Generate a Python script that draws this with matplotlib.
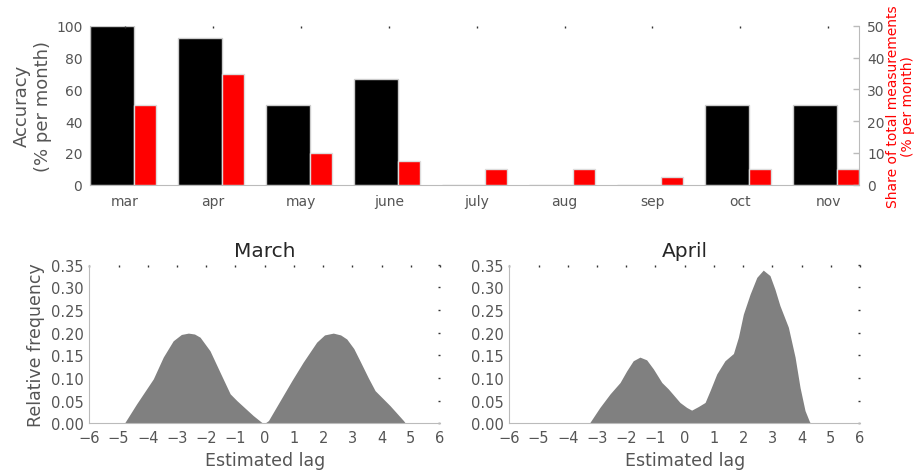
import matplotlib
matplotlib.use("Agg")
import matplotlib.pyplot as plt
import numpy as np

months = ["mar", "apr", "may", "june", "july", "aug", "sep", "oct", "nov"]
accuracy = [100, 92.3, 50, 66.7, 0, 0, 0, 50, 50]
share = [25, 35, 10, 7.5, 5, 5, 2.5, 5, 5]

march_lag = [-6, -4.82, -4.78, -4.38, -3.81, -3.47, -3.13, -2.85, -2.61, -2.40, -2.21, -1.87,
             -1.53, -1.18, -0.95, -0.73, -0.39, -0.10, 0.0, 0.13, 0.53, 0.93, 1.32, 1.78,
             2.05, 2.35, 2.60, 2.81, 3.05, 3.26, 3.55, 3.78, 4.29, 4.75, 4.82, 6]
march_freq = [0, 0, 0.002, 0.043, 0.098, 0.146, 0.182, 0.196, 0.199, 0.197, 0.190, 0.160,
              0.113, 0.065, 0.050, 0.037, 0.017, 0.002, 0.0, 0.006, 0.050, 0.094, 0.135,
              0.179, 0.195, 0.199, 0.195, 0.186, 0.165, 0.138, 0.100, 0.072, 0.039, 0.006,
              0, 0]

april_lag = [-6, -3.28, -3.24, -2.90, -2.55, -2.21, -1.98, -1.76, -1.53, -1.30, -1.07, -0.78,
             -0.56, -0.16, 0.07, 0.24, 0.47, 0.70, 0.87, 1.10, 1.38, 1.67, 1.84, 2.01, 2.24,
             2.47, 2.69, 2.92, 3.09, 3.26, 3.55, 3.78, 3.95, 4.12, 4.27, 4.31, 6]
april_freq = [0, 0, 0.002, 0.035, 0.065, 0.090, 0.116, 0.138, 0.146, 0.140, 0.120, 0.090,
              0.076, 0.046, 0.035, 0.029, 0.037, 0.046, 0.072, 0.109, 0.138, 0.154, 0.190,
              0.241, 0.285, 0.322, 0.338, 0.326, 0.296, 0.260, 0.212, 0.146, 0.079, 0.028,
              0.004, 0, 0]

lag_ticks = list(range(-6, 7))
freq_ticks = [0.00, 0.05, 0.10, 0.15, 0.20, 0.25, 0.30, 0.35]

TXT = "#555555"
SPINE = "#bbbbbb"

plt.rcParams["font.family"] = ["DejaVu Sans"]

fig = plt.figure(figsize=(9.17, 4.77), dpi=100)

# ---- top bar chart ----
ax = fig.add_axes([0.0981, 0.6107, 0.9368 - 0.0981, 0.9434 - 0.6107])
x = np.arange(len(months))
ax.bar(x - 0.4, accuracy, width=0.5, align="edge", color="black",
       edgecolor="#cccccc", linewidth=1)
ax.set_ylim(0, 100)
ax.set_xlim(-0.4, len(months) - 1 + 0.35)
ax.set_yticks([0, 20, 40, 60, 80, 100])
ax.set_xticks(x)
ax.set_xticklabels(months)
ax.set_ylabel("Accuracy\n(% per month)", fontsize=13, color=TXT, labelpad=3)
for s in ["top", "right"]:
    ax.spines[s].set_visible(False)
for s in ["left", "bottom"]:
    ax.spines[s].set_color(SPINE)
ax.tick_params(axis="x", bottom=False, top=True, direction="in", length=1.5,
               width=1, color="#333333", labelsize=10, labelcolor=TXT, pad=7)
ax.tick_params(axis="y", left=False, right=False, direction="in", length=0,
               labelsize=10, labelcolor=TXT, pad=5.5)

ax2 = ax.twinx()
ax2.bar(x + 0.1, share, width=0.25, align="edge", color="red",
        edgecolor="#dddddd", linewidth=1)
ax2.set_ylim(0, 50)
ax2.set_yticks([0, 10, 20, 30, 40, 50])
for s in ["top", "left", "bottom"]:
    ax2.spines[s].set_visible(False)
ax2.spines["right"].set_color(SPINE)
ax2.tick_params(axis="y", right=True, direction="in", length=4, width=1,
                color=SPINE, labelsize=10, labelcolor=TXT, pad=6)
ax2.set_ylabel("Share of total measurements\n(% per month)", fontsize=10,
               color="red", labelpad=1, linespacing=1.05)

# ---- bottom density plots ----
def density(axp, lag, freq, title, ylabel):
    axp.fill_between(lag, freq, 0, color="#808080", linewidth=0)
    axp.set_xlim(-6, 6)
    axp.set_ylim(0, 0.35)
    axp.set_xticks(lag_ticks)
    axp.set_yticks(freq_ticks)
    axp.set_yticklabels([f"{v:.2f}" for v in freq_ticks])
    axp.set_xticklabels([("\u2212" if t < 0 else "") + str(abs(t)) for t in lag_ticks])
    for s in ["top", "right"]:
        axp.spines[s].set_visible(False)
    for s in ["left", "bottom"]:
        axp.spines[s].set_color(SPINE)
    axp.tick_params(axis="x", bottom=False, top=True, direction="in", length=1.5,
                    width=1, color="#333333", labelsize=10.5, labelcolor=TXT, pad=5)
    axp.tick_params(axis="y", left=False, right=True, direction="in", length=1.5,
                    width=1, color="#333333", labelsize=10.5, labelcolor=TXT, pad=4)
    axp.set_xlabel("Estimated lag", fontsize=12.5, color=TXT, labelpad=4)
    if ylabel:
        axp.set_ylabel(ylabel, fontsize=12.5, color=TXT, labelpad=4)
    axp.set_title(title, fontsize=14.5, color="#262626", pad=6)

axm = fig.add_axes([0.0974, 0.1105, 0.4798 - 0.0974, 0.443 - 0.1105])
density(axm, march_lag, march_freq, "March", "Relative frequency")
axa = fig.add_axes([0.5554, 0.1105, 0.9378 - 0.5554, 0.443 - 0.1105])
density(axa, april_lag, april_freq, "April", None)

fig.savefig("out.png", dpi=100)
